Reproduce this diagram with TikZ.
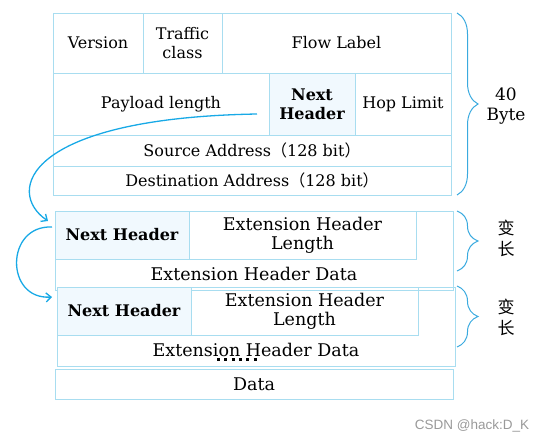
\documentclass[tikz,border=0pt]{standalone}
\usepackage{fontspec}
\setmainfont{DejaVu Serif}
\newfontfamily\cjk{Noto Sans CJK SC}
\newfontfamily\marksans{Liberation Sans}
\usetikzlibrary{arrows.meta,decorations.pathreplacing}
\definecolor{cellline}{HTML}{A8DDF0}
\definecolor{cellfill}{HTML}{F1F9FE}
\definecolor{linkblue}{HTML}{18A9E6}
\definecolor{braceblue}{HTML}{3AAADF}
\tikzset{
  cell/.style={draw=cellline, line width=0.8pt, inner sep=0pt, outer sep=0pt,
    anchor=north west, align=center, font=\fontsize{16}{19}\selectfont},
  nhcell/.style={cell, fill=cellfill, font=\bfseries\fontsize{16}{19}\selectfont},
  extcell/.style={cell, font=\fontsize{17.5}{19}\selectfont},
  link/.style={draw=linkblue, line width=1.3pt, -{Straight Barb[length=5pt,width=9pt]}},
  sizebrace/.style={draw=braceblue, line width=1pt,
    decorate, decoration={brace, amplitude=21pt}},
  sizelabel/.style={align=center, font=\fontsize{17}{20}\selectfont}
}
\begin{document}
\begin{tikzpicture}[x=1pt, y=-1pt]
  \useasboundingbox (0,0) rectangle (542,441);

  % fixed header, 40 byte
  \node[cell, minimum width=90pt, minimum height=60pt] (ver) at (53,13) {Version};
  \node[cell, minimum width=79pt, minimum height=60pt] (tc) at (143,13) {Traffic\\class};
  \node[cell, minimum width=229pt, minimum height=60pt] (fl) at (222,13) {Flow Label};
  \node[cell, minimum width=216pt, minimum height=62pt] (pl) at (53,73) {Payload length};
  \node[nhcell, minimum width=86pt, minimum height=62pt] (nh0) at (269,73) {Next\\Header};
  \node[cell, minimum width=96pt, minimum height=62pt] (hl) at (355,73) {Hop Limit};
  \node[cell, minimum width=398pt, minimum height=31pt] (src) at (53,135)
    {Source Address{\cjk（}128 bit{\cjk）}};
  \node[cell, minimum width=398pt, minimum height=29pt] (dst) at (53,166)
    {Destination Address{\cjk（}128 bit{\cjk）}};

  % first extension header
  \node[cell, minimum width=398pt, minimum height=79pt] (ext1) at (55,211) {};
  \node[nhcell, minimum width=134pt, minimum height=48pt] (nh1) at (55,211) {Next Header};
  \node[extcell, minimum width=227pt, minimum height=48pt] (ehl1) at (189,211) {Extension Header\\Length};
  \node[sizelabel, font=\fontsize{17.5}{19}\selectfont] (ehd1) at (254,274) {Extension Header Data};

  % second extension header
  \node[cell, minimum width=398pt, minimum height=79pt] (ext2) at (57,287) {};
  \node[nhcell, minimum width=134pt, minimum height=48pt] (nh2) at (57,287) {Next Header};
  \node[extcell, minimum width=227pt, minimum height=48pt] (ehl2) at (191,287) {Extension Header\\Length};
  \node[sizelabel, font=\fontsize{17.5}{19}\selectfont] (ehd2) at (256,350) {Extension Header Data};
  \draw[line width=3pt, dash pattern=on 3pt off 4.3pt] (217,360) -- (257,360);

  % payload
  \node[extcell, minimum width=398pt, minimum height=30pt] (data) at (55,369) {Data};

  % sizes
  \draw[sizebrace] (457,13) -- (457,195);
  \node[sizelabel] (fixlen) at (506,106) {40\\Byte};
  \draw[sizebrace] (457,211) -- (457,271);
  \node[sizelabel, font=\cjk\fontsize{17}{21}\selectfont] (varlen1) at (506,238) {变\\长};
  \draw[sizebrace] (457,286) -- (457,347);
  \node[sizelabel, font=\cjk\fontsize{17}{21}\selectfont] (varlen2) at (506,317) {变\\长};

  % next header chain
  \draw[link] ([shift={(-12,10)}]nh0.west) .. controls (25,118) and (5,192) .. ([shift={(-7,-14)}]nh1.west);
  \draw[link] ([shift={(-3,-8)}]nh1.west) .. controls (5,225) and (5,300) .. ([shift={(-5,-14)}]nh2.west);

  \node[text=black!40, font=\marksans\fontsize{13.5}{15}\selectfont] (mark) at (472,426) {CSDN @hack:D\_K};
\end{tikzpicture}
\end{document}
